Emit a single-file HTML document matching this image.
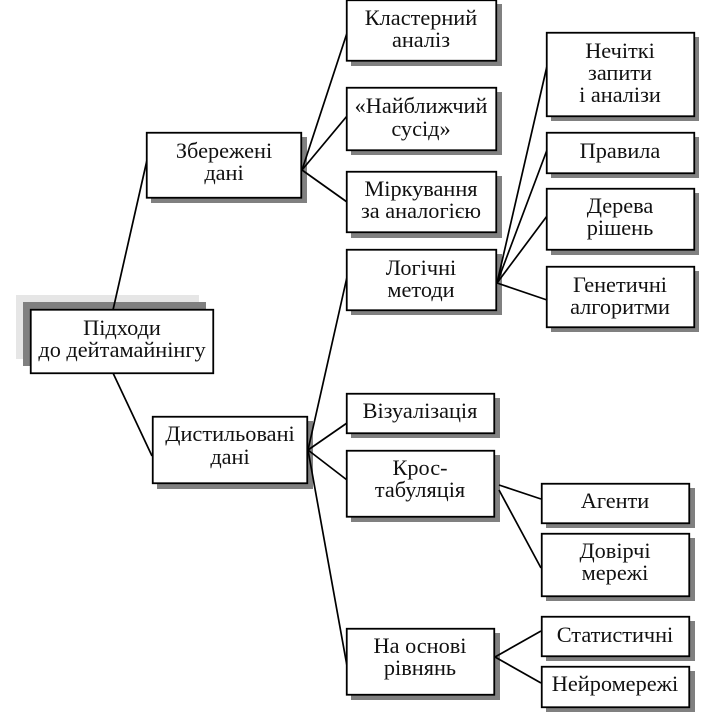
<!DOCTYPE html>
<html><head><meta charset="utf-8"><style>
html,body{margin:0;padding:0;background:#fff;width:701px;height:713px;overflow:hidden}
svg{display:block;position:absolute;left:0;top:0}
text{font-family:"Liberation Serif",serif;font-size:22.3px;fill:#111;text-anchor:middle}
.b{fill:#fff;stroke:#000;stroke-width:1.8}
.s{fill:#808080}
.l{stroke:#000;stroke-width:1.7;fill:none}
</style></head><body>
<svg width="701" height="713" viewBox="0 0 701 713" xmlns="http://www.w3.org/2000/svg">
<rect x="16" y="295" width="183" height="64" fill="#e6e6e6"/>
<rect x="23" y="302" width="183" height="64" fill="#808080"/>
<rect class="s" x="151" y="137" width="156" height="66"/>
<rect class="s" x="157" y="421" width="156" height="68"/>
<rect class="s" x="351" y="4" width="151" height="62"/>
<rect class="s" x="351" y="92" width="151" height="63"/>
<rect class="s" x="351" y="176" width="151" height="62"/>
<rect class="s" x="351" y="254" width="151" height="61"/>
<rect class="s" x="351" y="398" width="149" height="40"/>
<rect class="s" x="351" y="455" width="149" height="67"/>
<rect class="s" x="351" y="633" width="149" height="67"/>
<rect class="s" x="551" y="37" width="148" height="84"/>
<rect class="s" x="551" y="137" width="148" height="41"/>
<rect class="s" x="551" y="193" width="148" height="62"/>
<rect class="s" x="551" y="271" width="148" height="61"/>
<rect class="s" x="546" y="488" width="149" height="40"/>
<rect class="s" x="546" y="538" width="149" height="63"/>
<rect class="s" x="546" y="621" width="149" height="40"/>
<rect class="s" x="546" y="671" width="149" height="41"/>
<path class="l" d="M113 310L147 160M113 373L152 456"/>
<path class="l" d="M302 170L347 33M302 170L347 116M302 170L347 202"/>
<path class="l" d="M497 283L547 66M497 283L547 150M497 283L547 216M497 283L547 300"/>
<path class="l" d="M308 450L347 277M308 450L347 423M308 450L347 480M308 450L347 666"/>
<path class="l" d="M499 485L541 499M499 490L541 568"/>
<path class="l" d="M495 657L541 631M495 657L541 683"/>
<rect class="b" x="30.75" y="309.75" width="182.5" height="63.5"/>
<rect class="b" x="146.75" y="132.75" width="154.5" height="65"/>
<rect class="b" x="152.75" y="416.75" width="154.5" height="66.5"/>
<rect class="b" x="346.75" y="0.25" width="149.5" height="60.5"/>
<rect class="b" x="346.75" y="87.75" width="149.5" height="62.5"/>
<rect class="b" x="346.75" y="171.75" width="149.5" height="60.5"/>
<rect class="b" x="346.75" y="249.75" width="149.5" height="60.5"/>
<rect class="b" x="346.75" y="393.75" width="147.5" height="39.5"/>
<rect class="b" x="346.75" y="450.75" width="147.5" height="66"/>
<rect class="b" x="346.75" y="628.75" width="147.5" height="66"/>
<rect class="b" x="546.75" y="32.75" width="147.5" height="83.5"/>
<rect class="b" x="546.75" y="132.75" width="147.5" height="40.5"/>
<rect class="b" x="546.75" y="188.75" width="147.5" height="61"/>
<rect class="b" x="546.75" y="266.75" width="147.5" height="60.5"/>
<rect class="b" x="541.75" y="483.75" width="147.5" height="39.5"/>
<rect class="b" x="541.75" y="533.75" width="147.5" height="62.5"/>
<rect class="b" x="541.75" y="616.75" width="147.5" height="39.5"/>
<rect class="b" x="541.75" y="666.75" width="147.5" height="40.5"/>
<text x="122" y="335">Підходи</text>
<text x="122" y="357">до дейтамайнінгу</text>
<text x="224" y="158">Збережені</text>
<text x="224" y="180">дані</text>
<text x="230" y="441">Дистильовані</text>
<text x="230" y="464">дані</text>
<text x="421" y="25">Кластерний</text>
<text x="421" y="47">аналіз</text>
<text x="421" y="113">«Найближчий</text>
<text x="421" y="136">сусід»</text>
<text x="421" y="196">Міркування</text>
<text x="421" y="218">за аналогією</text>
<text x="421" y="275">Логічні</text>
<text x="421" y="297">методи</text>
<text x="420" y="418">Візуалізація</text>
<text x="420" y="475">Крос-</text>
<text x="420" y="497">табуляція</text>
<text x="420" y="653">На основі</text>
<text x="420" y="675">рівнянь</text>
<text x="620" y="58">Нечіткі</text>
<text x="620" y="80">запити</text>
<text x="620" y="102">і аналізи</text>
<text x="620" y="158">Правила</text>
<text x="620" y="213">Дерева</text>
<text x="620" y="235">рішень</text>
<text x="620" y="292">Генетичні</text>
<text x="620" y="314">алгоритми</text>
<text x="615" y="508">Агенти</text>
<text x="615" y="558">Довірчі</text>
<text x="615" y="580">мережі</text>
<text x="615" y="642">Статистичні</text>
<text x="615" y="691">Нейромережі</text>
</svg>
</body></html>
